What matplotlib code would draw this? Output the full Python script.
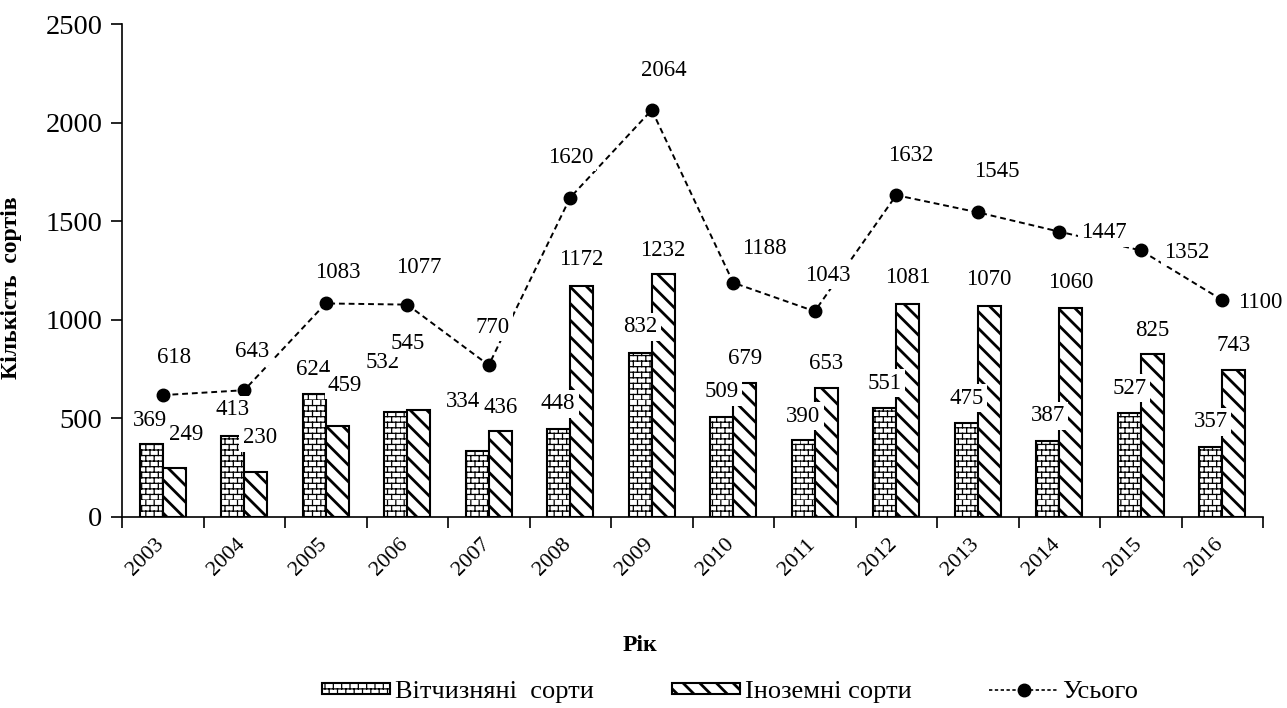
import warnings
import numpy as np
import matplotlib
matplotlib.use("Agg")
import matplotlib.pyplot as plt
from matplotlib import hatch as mhatch
from matplotlib.path import Path
from matplotlib.lines import Line2D
from matplotlib.transforms import ScaledTranslation

warnings.filterwarnings("ignore")

years = ["2003", "2004", "2005", "2006", "2007", "2008", "2009",
         "2010", "2011", "2012", "2013", "2014", "2015", "2016"]
domestic = [369, 413, 624, 532, 334, 448, 832, 509, 390, 551, 475, 387, 527, 357]
foreign = [249, 230, 459, 545, 436, 1172, 1232, 679, 653, 1081, 1070, 1060, 825, 743]
total = [618, 643, 1083, 1077, 770, 1620, 2064, 1188, 1043, 1632, 1545, 1447, 1352, 1100]

# label offsets in pixels (dx, dy up) - hand placed like in the source
off_dom = [(-1, 24), (0, 26), (-1, 24), (-13, 50), (-14, 50), (-1, 25), (0, 26),
           (0, 25), (0, 24), (0, 25), (0, 25), (0, 25), (0, 25), (0, 25)]
off_for = [(12, 33), (4, 34), (8, 41), (-11, 66), (0, 24), (0, 26), (0, 24),
           (0, 25), (0, 25), (0, 26), (0, 26), (0, 25), (0, 24), (0, 25)]
off_tot = [(11, 38), (8, 39), (12, 31), (11, 37), (4, 38), (0, 40), (12, 39),
           (31, 34), (13, 36), (14, 40), (19, 41), (45, -1), (46, -2), (38, -2)]


# brick hatch (like the excel pattern)
class BrickHatch(mhatch.HatchPatternBase):
    def __init__(self, hatch, density):
        self.rows = hatch.count('b') * int(density)
        self.cols = self.rows * 2 // 3
        self.num_vertices = 2 * self.rows * (1 + self.cols)

    def set_vertices_and_codes(self, vertices, codes):
        segs = []
        for i in range(self.rows):
            y0 = i / self.rows
            y1 = (i + 1) / self.rows
            segs.append(((0.0, y0), (1.0, y0)))
            shift = 0.5 * (i % 2)
            for j in range(self.cols):
                xx = (j + shift) / self.cols
                segs.append(((xx, y0), (xx, y1)))
        vertices[:] = np.array(segs).reshape(-1, 2)
        codes[0::2] = Path.MOVETO
        codes[1::2] = Path.LINETO


mhatch._hatch_types.append(BrickHatch)

plt.rcParams['font.family'] = ['Liberation Serif', 'DejaVu Serif']
plt.rcParams['hatch.color'] = 'black'

fig = plt.figure(figsize=(12.87, 7.08), dpi=100)
ax = fig.add_axes([122 / 1287, 1 - 517 / 708, 1141 / 1287, 493 / 708])

x = np.arange(len(years))
w = 0.28

with plt.rc_context({'hatch.linewidth': 0.9}):
    b1 = ax.bar(x - w / 2, domestic, w, color='white', edgecolor='black',
                linewidth=1.5, hatch='bbb', zorder=2)
with plt.rc_context({'hatch.linewidth': 2.0}):
    b2 = ax.bar(x + w / 2, foreign, w, color='white', edgecolor='black',
                linewidth=1.5, hatch='\\\\', zorder=2)
for p in b1:
    if hasattr(p, 'set_hatch_linewidth'):
        p.set_hatch_linewidth(0.9)
for p in b2:
    if hasattr(p, 'set_hatch_linewidth'):
        p.set_hatch_linewidth(2.0)

ax.plot(x, total, color='black', linestyle=(0, (3, 2)), linewidth=1.4,
        marker='o', markersize=9, zorder=3)

box = dict(boxstyle='square,pad=0.15', fc='white', ec='none')
for i in range(len(years)):
    for xx, v, off in [(x[i] - w / 2, domestic[i], off_dom[i]),
                       (x[i] + w / 2, foreign[i], off_for[i]),
                       (x[i], total[i], off_tot[i])]:
        ax.annotate(str(v), (xx, v), xytext=(off[0] * 0.72, off[1] * 0.72),
                    textcoords='offset points', ha='center', va='center',
                    fontsize=16.5, bbox=box, zorder=4)

ax.set_xlim(-0.5, len(years) - 0.5)
ax.set_ylim(0, 2500)
ax.set_yticks(range(0, 2501, 500))
ax.tick_params(axis='y', direction='out', length=8, width=1.2, labelsize=20.5, pad=6)

ax.set_xticks(x)
ax.set_xticklabels(years, rotation=45, ha='right', fontsize=16)
ax.set_xticks(np.arange(-0.5, len(years), 1.0), minor=True)
ax.tick_params(axis='x', which='major', length=0, pad=13)
ax.tick_params(axis='x', which='minor', direction='out', length=8, width=1.2)

for s in ['top', 'right']:
    ax.spines[s].set_visible(False)
for s in ['left', 'bottom']:
    ax.spines[s].set_linewidth(1.2)

ax.set_ylabel('Кількість  сортів', fontsize=17, fontweight='bold')
ax.yaxis.set_label_coords(-0.0876, 0.465)
ax.set_xlabel('Рік', fontsize=17, fontweight='bold')
ax.xaxis.set_label_coords(0.454, -0.239)

line_handle = Line2D([], [], color='black', linestyle=(0, (2, 1.5)), linewidth=1.2,
                     marker='o', markersize=9)
leg = fig.legend([b1, b2, line_handle], ['Вітчизняні  сорти', 'Іноземні сорти', 'Усього'],
                 loc='center', bbox_to_anchor=(730 / 1287, 1 - 692 / 708), ncol=3,
                 frameon=False, fontsize=19, handlelength=2.6, handleheight=0.3,
                 handletextpad=0.17, columnspacing=2.95)
for p, hlw in zip(leg.get_patches(), [0.9, 2.0]):
    p.set_linewidth(1.5)
    if hasattr(p, 'set_hatch_linewidth'):
        p.set_hatch_linewidth(hlw)

# nudge the year labels a bit to the right, as in the source
fig.canvas.draw()
shift = ScaledTranslation(5 / 100, 0, fig.dpi_scale_trans)
for lab in ax.get_xticklabels():
    lab.set_transform(lab.get_transform() + shift)

fig.savefig('out.png', dpi=100)
